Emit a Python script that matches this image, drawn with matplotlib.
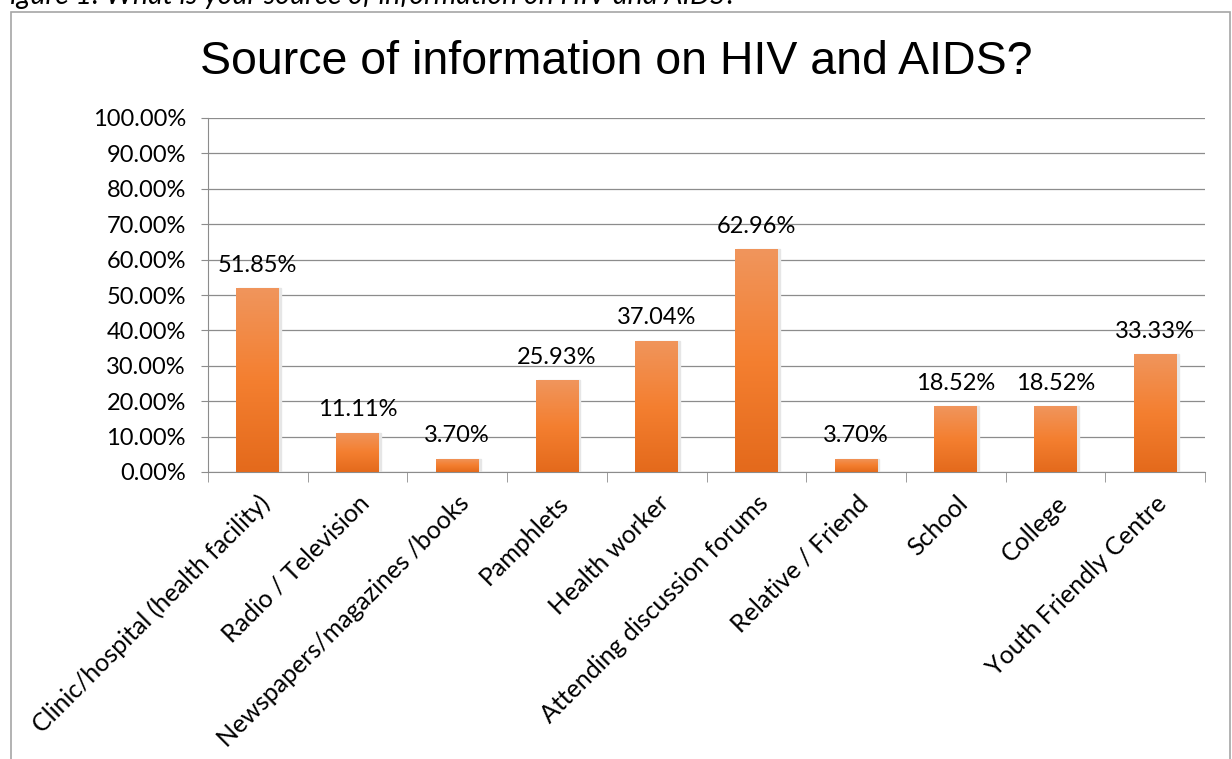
import numpy as np
import matplotlib.pyplot as plt
from matplotlib.patches import Rectangle
from matplotlib.colors import LinearSegmentedColormap

# data
sources = ['Clinic/hospital (health facility)', 'Radio / Television',
           'Newspapers/magazines /books', 'Pamphlets', 'Health worker',
           'Attending discussion forums', 'Relative / Friend', 'School',
           'College', 'Youth Friendly Centre']
percent = [51.85, 11.11, 3.70, 25.93, 37.04, 62.96, 3.70, 18.52, 18.52, 33.33]
yticks = np.arange(0, 101, 10)

plt.rcParams['font.family'] = ['Lato', 'DejaVu Sans']

fig = plt.figure(figsize=(12.32, 7.59), dpi=100)
ax = fig.add_axes([208 / 1232, 1 - 472 / 759, (1205 - 208) / 1232, (472 - 118) / 759])

# outer chart border (runs off the bottom of the image)
fig.patches.append(Rectangle((11 / 1232, -0.05), (1230 - 11) / 1232, 1.05 - 12 / 759,
                             transform=fig.transFigure, fill=False,
                             edgecolor='#a6a6a6', linewidth=1.2))

# caption cut off at the top edge
fig.text(-0.004, 1 - 4 / 759, 'Figure 1: What is your source of information on HIV and AIDS?',
         fontsize=20.5, style='italic', va='baseline', ha='left', color='black')

x = np.arange(len(sources))
bars = ax.bar(x, percent, width=0.43, color='#ef7d31', zorder=3)

grad = LinearSegmentedColormap.from_list('org', ['#e46a1c', '#f47f30', '#f0955c'])
for b in bars:
    x0, y0 = b.get_x(), b.get_y()
    w, h = b.get_width(), b.get_height()
    # soft shadow to the right of each bar
    ax.add_patch(Rectangle((x0 + 0.02, y0), w, h, color='#e6e6e6', zorder=2))
    im = ax.imshow(np.linspace(0, 1, 100).reshape(-1, 1), cmap=grad, aspect='auto',
                   origin='lower', extent=(x0, x0 + w, y0, y0 + h), zorder=4)
    im.set_clip_path(b)
    ax.annotate(f'{b.get_height():.2f}%', (x0 + w / 2, y0 + h), xytext=(0, 9),
                textcoords='offset points', ha='center', va='bottom', fontsize=17)

ax.set_xlim(-0.5, len(sources) - 0.5)
ax.set_ylim(0, 100)
ax.set_yticks(yticks)
ax.set_yticklabels([f'{v:.2f}%' for v in yticks], fontsize=17)
ax.yaxis.grid(True, color='#8c8c8c', linewidth=0.9, zorder=0)
ax.set_axisbelow(True)

ax.set_xticks(x)
ax.set_xticklabels(sources, rotation=45, ha='right', rotation_mode='anchor', fontsize=18)
ax.tick_params(axis='x', which='major', length=0, pad=14)
ax.set_xticks(np.arange(-0.5, len(sources)), minor=True)
ax.tick_params(axis='x', which='minor', length=7, color='#8c8c8c')
ax.tick_params(axis='y', length=5, color='#8c8c8c', pad=11)

for s in ['top', 'right']:
    ax.spines[s].set_visible(False)
ax.spines['left'].set_color('#8c8c8c')
ax.spines['bottom'].set_color('#8c8c8c')

fig.text(616 / 1232, 1 - 62 / 759, 'Source of information on HIV and AIDS?',
         fontsize=33.5, family=['Liberation Sans', 'DejaVu Sans'], ha='center', va='center')

fig.savefig('out.png', dpi=100)
